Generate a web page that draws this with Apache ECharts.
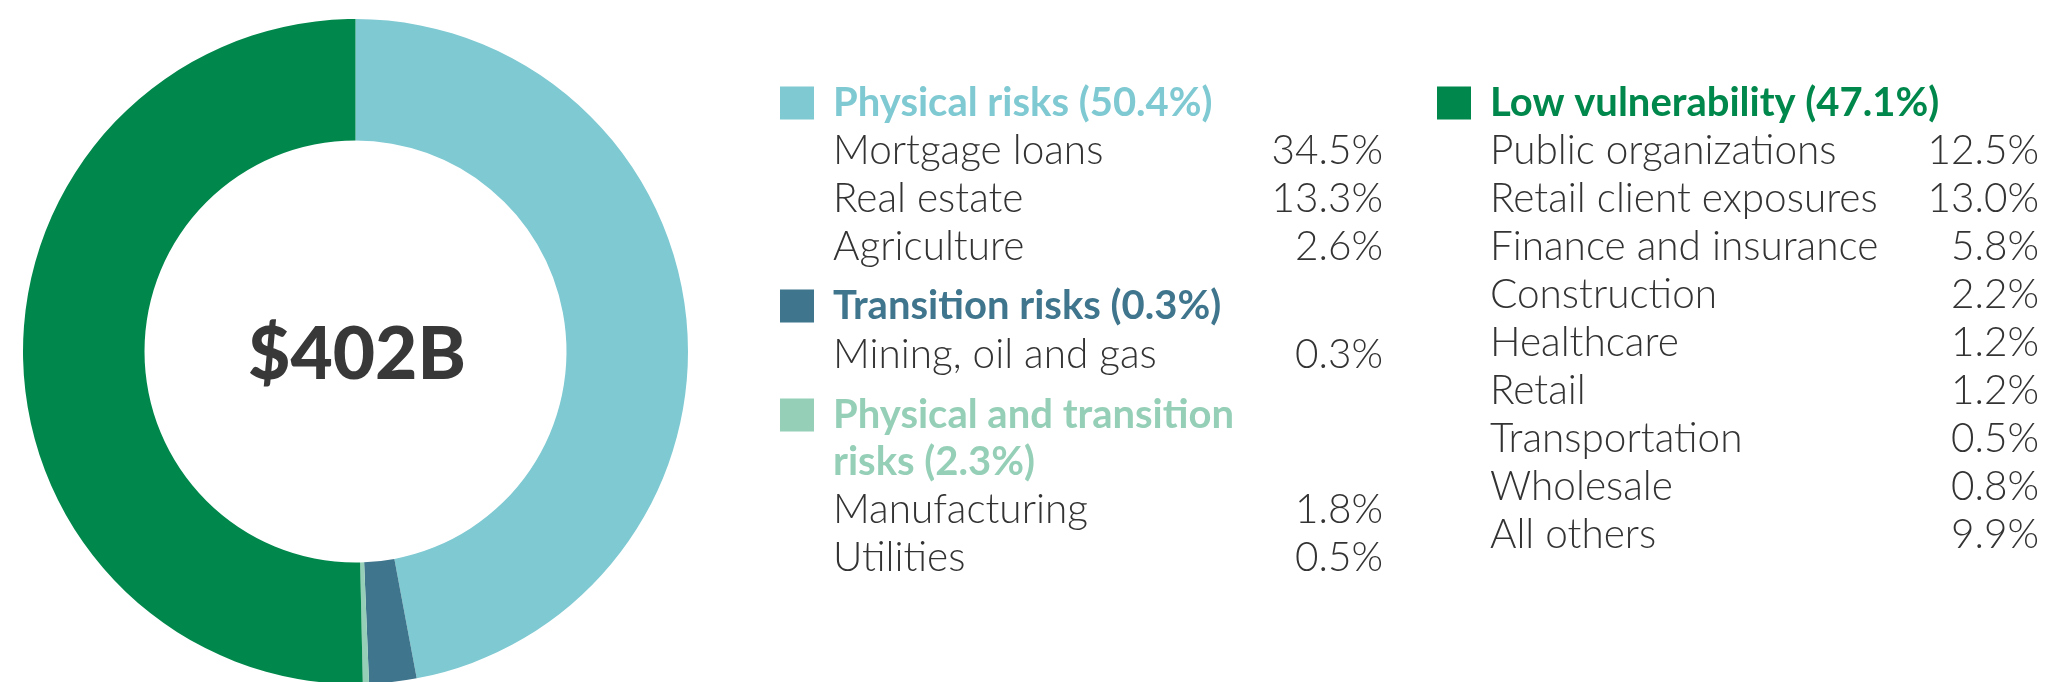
<!DOCTYPE html>
<html>
<head>
<meta charset="utf-8">
<script src="https://cdn.jsdelivr.net/npm/echarts@6/dist/echarts.min.js"></script>
<style>
html,body{margin:0;padding:0;background:#fff;}
#chart{width:2045px;height:682px;}
</style>
</head>
<body>
<div id="chart"></div>
<script>
// ---- data ----
const totalLabel = '$402B';
const donutNames = ['Segment A', 'Segment B', 'Segment C', 'Segment D'];
const donutValues = [47.1, 2.3, 0.3, 50.4];

const groupTitles = ['Physical risks (50.4%)', 'Transition risks (0.3%)', 'Physical and transition\nrisks (2.3%)', 'Low vulnerability (47.1%)'];
const physicalItems = ['Mortgage loans', 'Real estate', 'Agriculture'];
const physicalValues = ['34.5%', '13.3%', '2.6%'];
const transitionItems = ['Mining, oil and gas'];
const transitionValues = ['0.3%'];
const bothItems = ['Manufacturing', 'Utilities'];
const bothValues = ['1.8%', '0.5%'];
const lowItems = ['Public organizations', 'Retail client exposures', 'Finance and insurance', 'Construction', 'Healthcare', 'Retail', 'Transportation', 'Wholesale', 'All others'];
const lowValues = ['12.5%', '13.0%', '5.8%', '2.2%', '1.2%', '1.2%', '0.5%', '0.8%', '9.9%'];

// ---- styles ----
const sliceColors = ['#7ec9d2', '#3f758d', '#95cfb7', '#00884c'];
const groupColors = ['#7ec9d2', '#3f758d', '#95cfb7', '#00884c'];
const textColor = '#333333';
const titleFont = 'Lato, "Open Sans", sans-serif';
const itemFont = 'Lato, "Open Sans", sans-serif';
const titleSize = 40;
const itemSize = 40.5;
const rowH = 48;

const graphics = [];
function addTitle(x, y, text, color) {
  graphics.push({type: 'rect', shape: {x: x, y: y - 16.5, width: 34, height: 33}, style: {fill: color}, silent: true});
  graphics.push({type: 'text', x: x + 53, y: y, style: {text: text, fill: color, font: 'bold ' + titleSize + 'px ' + titleFont, verticalAlign: 'middle', align: 'left'}, silent: true});
}
function addItems(x, xr, y0, names, vals) {
  names.forEach(function (n, i) {
    const y = y0 + i * rowH;
    graphics.push({type: 'text', x: x, y: y, style: {text: n, fill: textColor, font: '300 ' + itemSize + 'px ' + itemFont, verticalAlign: 'middle', align: 'left'}, silent: true});
    graphics.push({type: 'text', x: xr, y: y, style: {text: vals[i], fill: textColor, font: '300 ' + itemSize + 'px ' + itemFont, verticalAlign: 'middle', align: 'right'}, silent: true});
  });
}
// left column
addTitle(780, 103, groupTitles[0], groupColors[0]);
addItems(833, 1383, 151, physicalItems, physicalValues);
addTitle(780, 306, groupTitles[1], groupColors[1]);
addItems(833, 1383, 355, transitionItems, transitionValues);
graphics.push({type: 'rect', shape: {x: 780, y: 415 - 16.5, width: 34, height: 33}, style: {fill: groupColors[2]}, silent: true});
graphics.push({type: 'text', x: 833, y: 415, style: {text: groupTitles[2].split('\n')[0], fill: groupColors[2], font: 'bold ' + titleSize + 'px ' + titleFont, verticalAlign: 'middle', align: 'left'}, silent: true});
graphics.push({type: 'text', x: 833, y: 462, style: {text: groupTitles[2].split('\n')[1], fill: groupColors[2], font: 'bold ' + titleSize + 'px ' + titleFont, verticalAlign: 'middle', align: 'left'}, silent: true});
addItems(833, 1383, 510, bothItems, bothValues);
// right column
addTitle(1437, 103, groupTitles[3], groupColors[3]);
addItems(1490, 2039, 151, lowItems, lowValues);
// center label
graphics.push({type: 'text', x: 357, y: 355, style: {text: totalLabel, fill: '#383838', font: '900 73px Lato, "Open Sans", sans-serif', verticalAlign: 'middle', align: 'center'}, silent: true});

const chart = echarts.init(document.getElementById('chart'), null, {renderer: 'canvas'});
chart.setOption({
  animation: false,
  backgroundColor: '#ffffff',
  series: [{
    type: 'pie',
    center: [355.5, 351.5],
    radius: [211, 332.5],
    startAngle: 90,
    clockwise: true,
    silent: true,
    label: {show: false},
    labelLine: {show: false},
    itemStyle: {borderWidth: 0},
    emphasis: {disabled: true},
    data: donutNames.map(function (n, i) { return {name: n, value: donutValues[i], itemStyle: {color: sliceColors[i]}}; })
  }],
  graphic: graphics
});
</script>
</body>
</html>
